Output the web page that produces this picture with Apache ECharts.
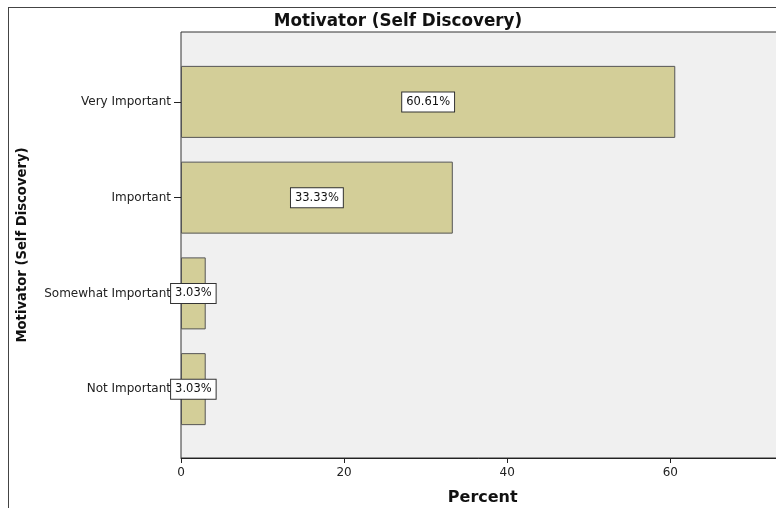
<!DOCTYPE html>
<html>
<head>
<meta charset="utf-8">
<script src="https://cdn.jsdelivr.net/npm/echarts@6/dist/echarts.min.js"></script>
<style>
  html, body { margin: 0; padding: 0; background: #fff; }
  #chart { width: 776px; height: 508px; }
</style>
</head>
<body>
<div id="chart"></div>
<script>
  // values
  var categories = ['Very Important', 'Important', 'Somewhat Important', 'Not Important']
  var percents = [60.61, 33.33, 3.03, 3.03]
  var xTicks = [0, 20, 40, 60]

  var xMax = 74
  var pxPerUnit = 8.155
  // plot runs past the right edge of the picture
  var plotRight = 776 - (181 + xMax * pxPerUnit)

  var myChart = echarts.init(document.getElementById('chart'))
  myChart.setOption({
    animation: false,
    textStyle: { fontFamily: 'DejaVu Sans' },
    title: {
      text: 'Motivator (Self Discovery)',
      left: 393,
      top: 8,
      textAlign: 'center',
      textStyle: { fontFamily: 'DejaVu Sans', fontWeight: 'bold', fontSize: 16.8, color: '#111' }
    },
    graphic: [
      { type: 'line', shape: { x1: 8.5, y1: 7, x2: 8.5, y2: 508 }, style: { stroke: '#444', lineWidth: 1 } },
      { type: 'line', shape: { x1: 8, y1: 7.5, x2: 776, y2: 7.5 }, style: { stroke: '#444', lineWidth: 1 } }
    ],
    grid: [
      // frame / background grid
      {
        left: 181, top: 32, right: plotRight, bottom: 50,
        outerBoundsMode: 'none',
        show: true, backgroundColor: '#f0f0f0', borderColor: '#333', borderWidth: 1
      },
      // bar grid (categories sit inside the frame with padding)
      { left: 181, top: 54, right: plotRight, height: 383, outerBoundsMode: 'none' }
    ],
    xAxis: [
      {
        gridIndex: 0,
        type: 'value',
        min: 0,
        max: xMax,
        interval: 20,
        name: 'Percent',
        nameLocation: 'middle',
        nameGap: 32,
        nameTextStyle: { fontFamily: 'DejaVu Sans', fontWeight: 'bold', fontSize: 16, color: '#111' },
        axisLine: { show: true, lineStyle: { color: '#222', width: 1 } },
        axisTick: { show: true, length: 5, lineStyle: { color: '#222' } },
        axisLabel: {
          margin: 9, fontSize: 12, color: '#222', showMaxLabel: false,
          formatter: function (v) { return xTicks.indexOf(v) >= 0 ? String(v) : '' }
        },
        splitLine: { show: false }
      },
      { gridIndex: 1, type: 'value', min: 0, max: xMax, show: false }
    ],
    yAxis: [
      {
        gridIndex: 0,
        type: 'value',
        name: 'Motivator (Self Discovery)',
        nameLocation: 'middle',
        nameGap: 152,
        nameRotate: 90,
        nameTextStyle: { fontFamily: 'DejaVu Sans', fontWeight: 'bold', fontSize: 13.2, color: '#111' },
        axisLine: { show: false },
        axisTick: { show: false },
        axisLabel: { show: false },
        splitLine: { show: false }
      },
      {
        gridIndex: 1,
        type: 'category',
        data: categories,
        inverse: true,
        axisLine: { show: false },
        axisTick: { show: true, alignWithLabel: true, length: 7, lineStyle: { color: '#222' } },
        axisLabel: { margin: 10, fontSize: 12, color: '#222' }
      }
    ],
    series: [
      {
        type: 'bar',
        xAxisIndex: 1,
        yAxisIndex: 1,
        data: percents,
        barWidth: 72,
        itemStyle: { color: '#d3ce98', borderColor: '#555', borderWidth: 1 },
        label: {
          show: true,
          position: 'inside',
          formatter: function (p) { return p.value.toFixed(2) + '%' },
          fontSize: 11.5,
          color: '#111',
          backgroundColor: '#fff',
          borderColor: '#333',
          borderWidth: 1,
          padding: [4, 4, 3, 4]
        }
      }
    ]
  })
</script>
</body>
</html>
